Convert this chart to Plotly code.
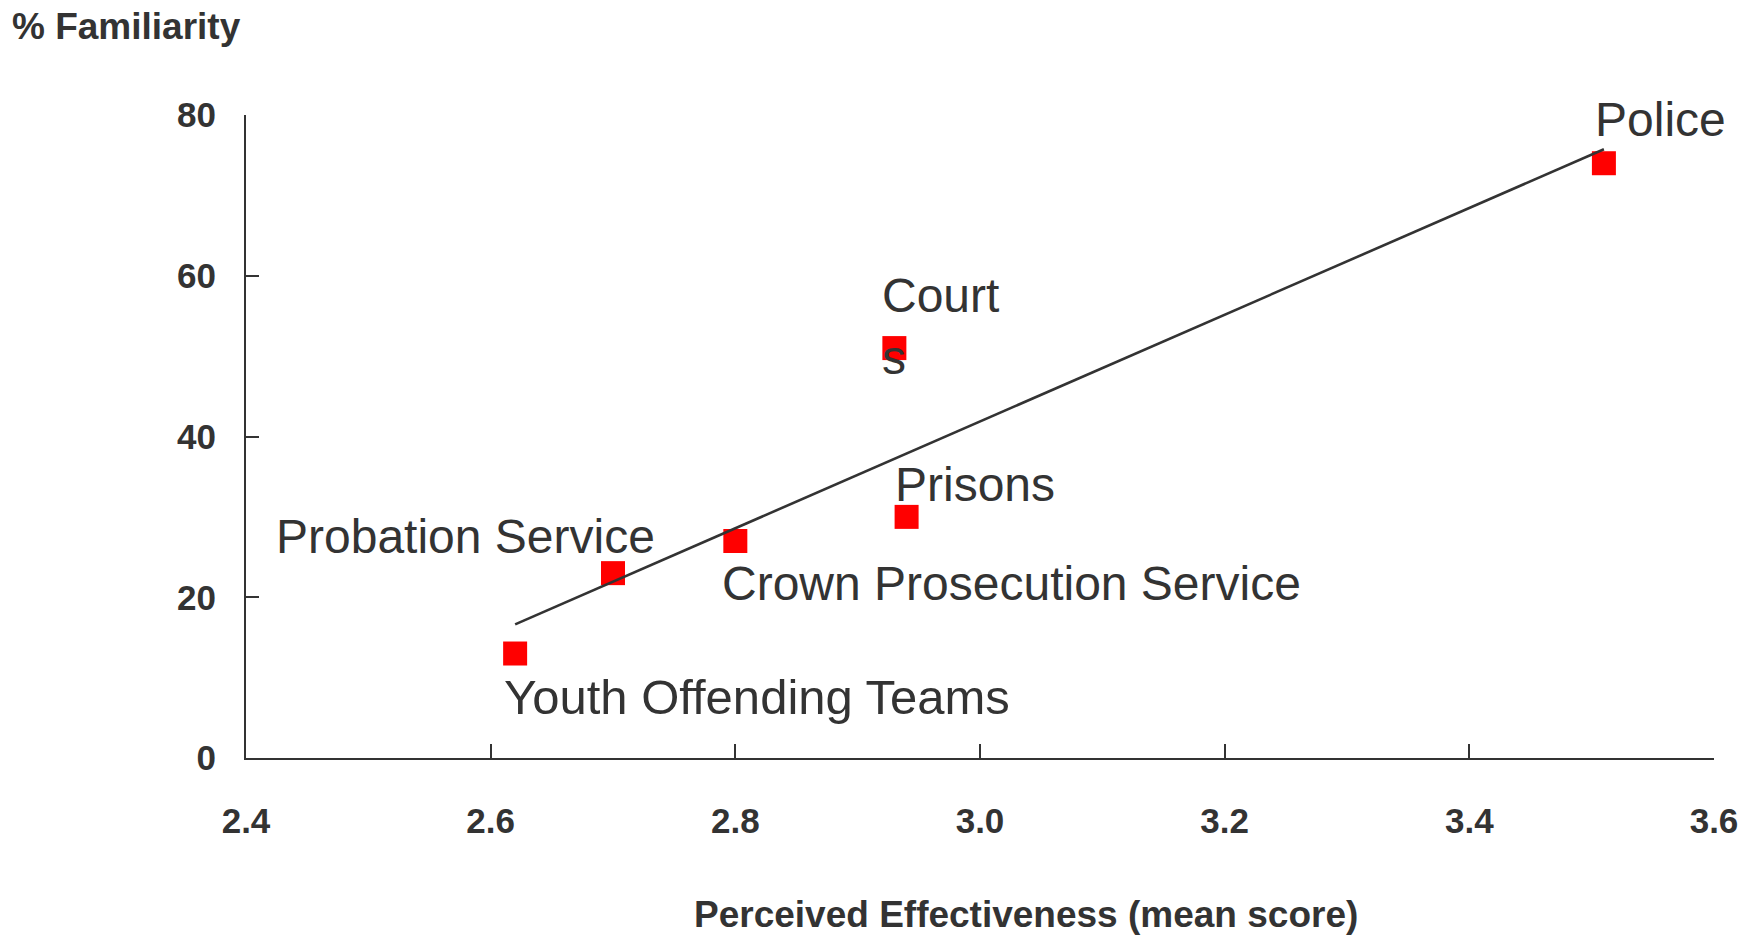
import numpy as np
import plotly.graph_objects as go

# ---- data ----
agencies = ["Youth Offending Teams", "Probation Service", "Crown Prosecution Service",
            "Courts", "Prisons", "Police"]
effectiveness = [2.62, 2.70, 2.80, 2.93, 2.94, 3.51]
familiarity = [13, 23, 27, 51, 30, 74]
label_text = ["Youth Offending Teams", "Probation Service", "Crown Prosecution Service",
              "Court<br>s", "Prisons", "Police"]
x_ticks = [2.4, 2.6, 2.8, 3.0, 3.2, 3.4, 3.6]
x_tick_text = ["2.4", "2.6", "2.8", "3.0", "3.2", "3.4", "3.6"]
y_ticks = [0, 20, 40, 60, 80]

# ---- label placement (styling) ----
label_style = {
    "Youth Offending Teams": dict(xanchor="left", xshift=-13, yshift=-43, size=49),
    "Probation Service": dict(xanchor="right", xshift=44, yshift=37, size=48),
    "Crown Prosecution Service": dict(xanchor="left", xshift=-15, yshift=-43, size=48),
    "Courts": dict(xanchor="left", xshift=-14, yshift=22, size=48),
    "Prisons": dict(xanchor="left", xshift=-14, yshift=32, size=48),
    "Police": dict(xanchor="left", xshift=-11, yshift=44, size=48),
}

TXT = "#333333"
AX = "#333333"
FONT = "Liberation Sans, Arial, sans-serif"

# least-squares trend line through the data
slope, intercept = np.polyfit(effectiveness, familiarity, 1)
trend_x = [min(effectiveness), max(effectiveness)]
trend_y = [slope * v + intercept for v in trend_x]

fig = go.Figure()
fig.add_trace(go.Scatter(
    x=effectiveness, y=familiarity, mode="markers",
    marker=dict(symbol="square", size=24, color="#FF0000", line=dict(width=0)),
    showlegend=False, hoverinfo="skip", cliponaxis=False,
))
fig.add_trace(go.Scatter(
    x=trend_x, y=trend_y, mode="lines",
    line=dict(color=AX, width=2.6), showlegend=False, hoverinfo="skip",
))

for name, lab, xv, yv in zip(agencies, label_text, effectiveness, familiarity):
    st = label_style[name]
    fig.add_annotation(
        x=xv, y=yv, xref="x", yref="y", text=lab, showarrow=False,
        xanchor=st["xanchor"], yanchor="middle", align="left",
        xshift=st["xshift"], yshift=st["yshift"],
        font=dict(family=FONT, size=st["size"], color=TXT),
    )

fig.add_annotation(
    x=-0.160, y=1.137, xref="paper", yref="paper", text="<b>% Familiarity</b>",
    showarrow=False, xanchor="left", yanchor="middle", borderpad=0,
    font=dict(family=FONT, size=37, color=TXT),
)
fig.add_annotation(
    x=0.531, y=-0.243, xref="paper", yref="paper",
    text="<b>Perceived Effectiveness (mean score)</b>",
    showarrow=False, xanchor="center", yanchor="middle",
    font=dict(family=FONT, size=37, color=TXT),
)

fig.update_xaxes(
    range=[2.4, 3.6], tickvals=x_ticks, ticktext=x_tick_text,
    showgrid=False, zeroline=False, showline=True, linecolor=AX, linewidth=2,
    ticks="inside", ticklen=14, tickwidth=1.5, tickcolor=AX,
    tickfont=dict(family=FONT, size=35, color=TXT, weight="bold"),
    ticklabelstandoff=31,
)
fig.update_yaxes(
    range=[0, 80], tickvals=y_ticks,
    showgrid=False, zeroline=False, showline=True, linecolor=AX, linewidth=2,
    ticks="inside", ticklen=13, tickwidth=1.5, tickcolor=AX,
    tickfont=dict(family=FONT, size=35, color=TXT, weight="bold"),
    ticklabelstandoff=21,
)

fig.update_layout(
    width=1755, height=937,
    margin=dict(l=246, r=41, t=115, b=179),
    paper_bgcolor="white", plot_bgcolor="white",
)

# remove the default page margin so the figure fills the window exactly
fig.write_html("out.html", config={"displayModeBar": False},
               post_script="document.body.style.margin='0';")
